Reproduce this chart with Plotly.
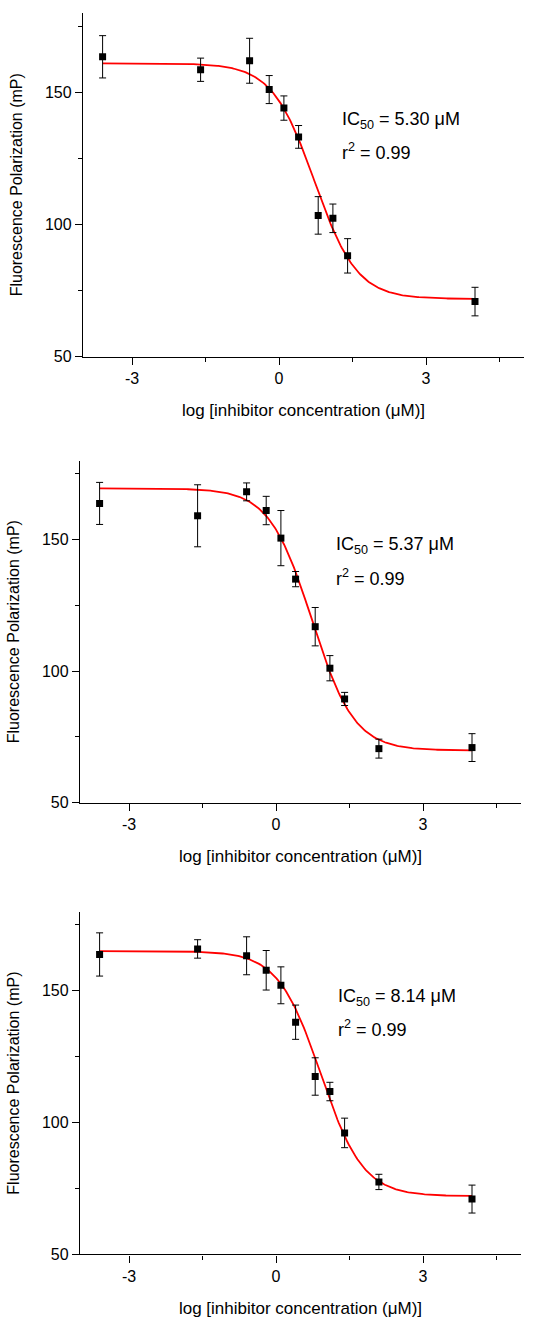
import numpy as np
import plotly.graph_objects as go

W, H = 557, 1325

# ---------- data ----------
x_p1 = [-3.6, -1.6, -0.6, -0.2, 0.1, 0.4, 0.8, 1.1, 1.4, 4.0]
y_p1 = [163.4, 158.5, 161.9, 151.0, 144.0, 133.1, 103.4, 102.3, 88.1, 70.8]
e_p1 = [8.0, 4.4, 8.5, 5.3, 4.6, 4.3, 7.1, 5.4, 6.5, 5.4]

x_p2 = [-3.6, -1.6, -0.6, -0.2, 0.1, 0.4, 0.8, 1.1, 1.4, 2.1, 4.0]
y_p2 = [163.8, 159.1, 168.2, 161.1, 150.6, 135.0, 116.9, 101.1, 89.4, 70.5, 70.9]
e_p2 = [8.0, 11.8, 3.4, 5.4, 10.5, 2.9, 7.3, 4.8, 2.5, 3.6, 5.3]

x_p3 = [-3.6, -1.6, -0.6, -0.2, 0.1, 0.4, 0.8, 1.1, 1.4, 2.1, 4.0]
y_p3 = [163.8, 165.9, 163.3, 157.8, 152.1, 138.1, 117.5, 111.8, 96.1, 77.5, 71.0]
e_p3 = [8.2, 3.5, 7.2, 7.5, 7.0, 6.5, 7.1, 3.5, 5.6, 2.9, 5.3]

# fitted 4-parameter logistic parameters: top, bottom, IC50 (uM), hill
fit_top = [160.9, 169.5, 165.1]
fit_bottom = [71.8, 69.8, 72.1]
fit_ic50 = [5.30, 5.37, 8.14]
fit_hill = [1.0, 1.0, 1.0]
r2_vals = ["0.99", "0.99", "0.99"]

x_ticks = [-3, 0, 3]
y_ticks = [50, 100, 150]

x_title = "log [inhibitor concentration (μM)]"
y_title = "Fluorescence Polarization (mP)"

panels = [(x_p1, y_p1, e_p1), (x_p2, y_p2, e_p2), (x_p3, y_p3, e_p3)]

# ---------- layout (pixel boxes) ----------
boxes = [  # left, right, top, bottom in px
    (83, 524, 13, 359),
    (80, 521, 464, 808),
    (80, 521, 918, 1263),
]
ann_pos = [(340, 121, 153), (334, 549, 581), (336, 1004, 1036)]

FONT = "Arial, 'Liberation Sans', Helvetica, sans-serif"

fig = go.Figure()
annotations = []
for i, ((xs, ys, es), box) in enumerate(zip(panels, boxes)):
    n = "" if i == 0 else str(i + 1)
    xa, ya = "x" + n, "y" + n
    # fitted curve
    xc = np.linspace(min(xs), max(xs), 300)
    logic = np.log10(fit_ic50[i])
    yc = fit_bottom[i] + (fit_top[i] - fit_bottom[i]) / (1 + 10 ** ((xc - logic) * fit_hill[i]))
    fig.add_trace(go.Scatter(x=xc, y=yc, mode="lines", line=dict(color="#ff0000", width=1.8),
                             xaxis=xa, yaxis=ya, showlegend=False, hoverinfo="skip"))
    fig.add_trace(go.Scatter(x=xs, y=ys, mode="markers",
                             marker=dict(symbol="square", size=7, color="black"),
                             error_y=dict(type="data", array=es, visible=True, color="black",
                                          thickness=1, width=3.5),
                             xaxis=xa, yaxis=ya, showlegend=False))
    l, r, t, b = box
    axis_common = dict(showline=True, linecolor="black", linewidth=1.3, ticks="outside",
                       ticklen=7, tickwidth=1.3, tickcolor="black", showgrid=False,
                       zeroline=False, mirror=False,
                       tickfont=dict(family=FONT, size=16, color="black"))
    fig.layout["xaxis" + n] = dict(domain=[l / W, r / W], range=[-4, 5], anchor=ya,
                                   tickvals=x_ticks, ticktext=[str(v) for v in x_ticks],
                                   minor=dict(tickvals=[-1.5, 1.5, 4.5], ticklen=4, tickwidth=1.3,
                                              tickcolor="black", ticks="outside"),
                                   title=dict(text=x_title, standoff=18,
                                              font=dict(family=FONT, size=17, color="black")),
                                   **axis_common)
    fig.layout["yaxis" + n] = dict(domain=[1 - b / H, 1 - t / H], range=[50, 180], anchor=xa,
                                   tickvals=y_ticks, ticktext=[str(v) for v in y_ticks],
                                   minor=dict(tickvals=[75, 125, 175], ticklen=4, tickwidth=1.3,
                                              tickcolor="black", ticks="outside"),
                                   title=dict(text=y_title, standoff=18,
                                              font=dict(family=FONT, size=16, color="black")),
                                   **axis_common)
    ax, ay1, ay2 = ann_pos[i]
    annotations.append(dict(text="IC<sub>50</sub> = %.2f μM" % fit_ic50[i], x=ax / W, y=1 - ay1 / H,
                            xref="paper", yref="paper", showarrow=False,
                            xanchor="left", yanchor="middle",
                            font=dict(family=FONT, size=18, color="black")))
    annotations.append(dict(text="r<sup>2</sup> = " + r2_vals[i], x=ax / W, y=1 - ay2 / H,
                            xref="paper", yref="paper", showarrow=False,
                            xanchor="left", yanchor="middle",
                            font=dict(family=FONT, size=18, color="black")))

fig.update_layout(width=W, height=H, margin=dict(l=0, r=0, t=0, b=0),
                  paper_bgcolor="white", plot_bgcolor="white",
                  annotations=annotations, font=dict(family=FONT, size=16, color="black"))

fig.write_html("out.html")
